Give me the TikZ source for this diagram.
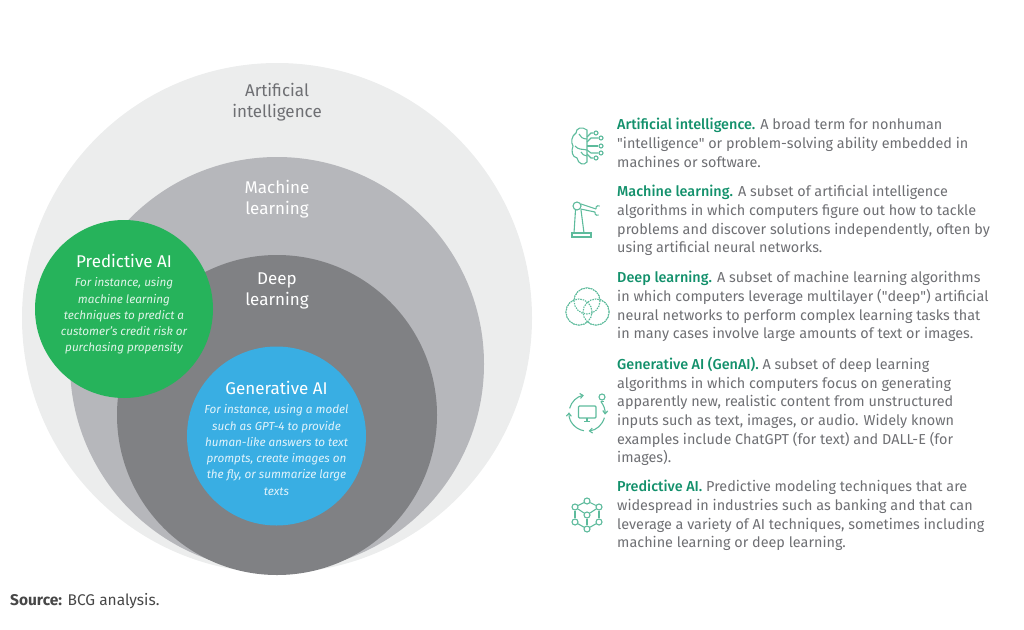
\documentclass[tikz,border=0pt]{standalone}
\usepackage{fontspec}
\setmainfont{Fira Sans}
\newfontfamily\plainfont{Fira Sans}
\newfontfamily\mediumfont{Fira Sans Medium}
\usetikzlibrary{arrows.meta}

\definecolor{aigray}{HTML}{ECEDED}
\definecolor{mlgray}{HTML}{B6B7BB}
\definecolor{dlgray}{HTML}{808184}
\definecolor{predgreen}{HTML}{26B35B}
\definecolor{genblue}{HTML}{39AEE3}
\definecolor{headteal}{HTML}{12906B}
\definecolor{bodygray}{HTML}{6E6F73}
\definecolor{icongreen}{HTML}{5DBB9C}

\tikzset{
  ring/.style={circle,inner sep=0pt},
  ringtitle/.style={align=center,font=\fontsize{17}{21}\selectfont},
  ringnote/.style={align=center,font=\fontsize{11.7}{16.3}\selectfont\itshape},
  entry/.style={anchor=north west,align=left,inner sep=0pt,text=bodygray,font=\fontsize{14.4}{18.7}\selectfont},
  icon/.style={draw=icongreen,line width=1.1pt},
  dot/.style={circle,draw=icongreen,line width=1.1pt,fill=white,inner sep=0pt,minimum size=6pt},
  cyclearrow/.style={icon,-{Straight Barb[length=3pt,width=5pt]}}
}
\newcommand{\headtext}[1]{{\mediumfont\color{headteal}#1}}
\newcommand{\strq}{{\plainfont"}}

\begin{document}
\begin{tikzpicture}[x=1pt,y=-1pt]
\useasboundingbox (0,0) rectangle (1024,629);

% Circles
\node[ring,fill=aigray,minimum size=510pt] (aicircle) at (277,318) {};
\node[ring,fill=mlgray,minimum size=414pt] (mlcircle) at (277,364) {};
\node[ring,fill=dlgray,minimum size=320pt] (dlcircle) at (277,415) {};
\node[ring,fill=genblue,minimum size=179pt] (gencircle) at (276.5,436) {};
\node[ring,fill=predgreen,minimum size=178pt] (predcircle) at (124,309) {};

% Circle labels
\node[ringtitle,text=bodygray] (ailabel) at (277,102) {Artificial\\intelligence};
\node[ringtitle,text=white] (mllabel) at (277,199) {Machine\\learning};
\node[ringtitle,text=white] (dllabel) at (277,291) {Deep\\learning};
\node[ringtitle,text=white] (predlabel) at (124,261) {Predictive AI};
\node[ringnote,text=white!85!predgreen] (prednote) at (124,316) {For instance, using\\machine learning\\techniques to predict a\\customer's credit risk or\\purchasing propensity};
\node[ringtitle,text=white] (genlabel) at (276.5,388) {Generative AI};
\node[ringnote,text=white!85!genblue] (gennote) at (276.5,450) {For instance, using a model\\such as GPT-4 to provide\\human-like answers to text\\prompts, create images on\\the fly, or summarize large\\texts};

% Definitions
\node[entry] (aitext) at (617,118) {\headtext{Artificial intelligence.} A broad term for nonhuman\\\strq intelligence\strq{} or problem-solving ability embedded in\\machines or software.};
\node[entry] (mltext) at (617,185) {\headtext{Machine learning.} A subset of artificial intelligence\\algorithms in which computers figure out how to tackle\\problems and discover solutions independently, often by\\using artificial neural networks.};
\node[entry] (dltext) at (617,271) {\headtext{Deep learning.} A subset of machine learning algorithms\\in which computers leverage multilayer (\strq deep\strq) artificial\\neural networks to perform complex learning tasks that\\in many cases involve large amounts of text or images.};
\node[entry] (gentext) at (617,357) {\headtext{Generative AI (GenAI).} A subset of deep learning\\algorithms in which computers focus on generating\\apparently new, realistic content from unstructured\\inputs such as text, images, or audio. Widely known\\examples include ChatGPT (for text) and DALL-E (for\\images).};
\node[entry] (predtext) at (617,480) {\headtext{Predictive AI.} Predictive modeling techniques that are\\widespread in industries such as banking and that can\\leverage a variety of AI techniques, sometimes including\\machine learning or deep learning.};

% Source
\node[anchor=west,inner sep=0pt,text=black!72,font=\fontsize{15.5}{18}\selectfont] (source) at (10,601) {\textbf{Source:} BCG analysis.};

% Brain icon
\draw[icon] (587,130) .. controls (582,126) and (576,128) .. (576,133) .. controls (571,136) and (571,143) .. (573,146) .. controls (571,151) and (572,157) .. (577,158) .. controls (578,164) and (584,166) .. (587,162) -- cycle;
\draw[icon] (587,139) .. controls (583,139) and (580,137) .. (579,134);
\draw[icon] (587,150) .. controls (583,149) and (578,150) .. (575,146);
\draw[icon] (587,156) .. controls (584,156) and (582,154) .. (581,152);
\foreach \nx/\ny [count=\k] in {596/133,601/138,601/146,601/153,596/158}
  \node[dot,minimum size=4pt] (brain\k) at (\nx,\ny) {};
\draw[icon] (587,137)--(591,133)--(brain1);
\draw[icon] (587,142)--(591,138)--(brain2);
\draw[icon] (587,146)--(brain3);
\draw[icon] (587,150)--(591,153)--(brain4);
\draw[icon] (587,154)--(591,158)--(brain5);

% Robot arm icon
\draw[icon] (572,233) rectangle (591,237);
\draw[icon] (575.5,210)--(574,233);
\draw[icon] (581,210)--(584,233);
\draw[icon] (581,204)--(596,209);
\draw[icon] (580.5,209)--(595,212);
\node[dot,minimum size=8pt] (shoulder) at (577,206) {};
\draw[icon] (596,209) arc (200:60:2.5pt);
\draw[icon] (595,212) arc (160:300:2.5pt);

% Venn icon
\foreach \cx/\cy/\cr in {587/301/13,579/312/13,596/312/13}
  \draw[icon] (\cx,\cy) circle (\cr pt);
\foreach \cx/\cy/\cr in {587/301/13,579/312/13,596/312/13}
  \fill[white] (\cx,\cy) circle (\cr pt);
\foreach \cx/\cy/\cr in {587/301/13,579/312/13,596/312/13}
  \draw[icon,dash pattern=on 1.5pt off 1pt] (\cx,\cy) circle (\cr pt);

% GenAI icon
\draw[cyclearrow] ([shift={(587,413)}] 165:18pt) arc (165:100:18pt);
\draw[cyclearrow] ([shift={(587,413)}] 40:18pt) arc (40:-5:18pt);
\draw[cyclearrow] ([shift={(587,413)}] -15:18pt) arc (-15:-85:18pt);
\draw[cyclearrow] ([shift={(587,413)}] -100:18pt) arc (-100:-182:18pt);
\draw[icon,rounded corners=1pt] (578.5,406) rectangle (596,418);
\draw[icon] (587,418)--(587,421) (584,421.5)--(590,421.5);
\node[dot,minimum size=6pt] (bulb) at (602,397) {};
\draw[icon] (600.5,401.5)--(603.5,401.5);

% Predictive AI icon
\foreach \nname/\nx/\ny in {ptop/587/501,pleft/575/507,pright/599/507,pmid/587/515,plow/575/522,prow/599/522,pbot/587/529}
  \node[dot] (\nname) at (\nx,\ny) {};
\foreach \na/\nb in {ptop/pleft,ptop/pright,pleft/pmid,pright/pmid,pleft/plow,pright/prow,pmid/pbot,plow/pbot,prow/pbot}
  \draw[icon] (\na)--(\nb);

\end{tikzpicture}
\end{document}
